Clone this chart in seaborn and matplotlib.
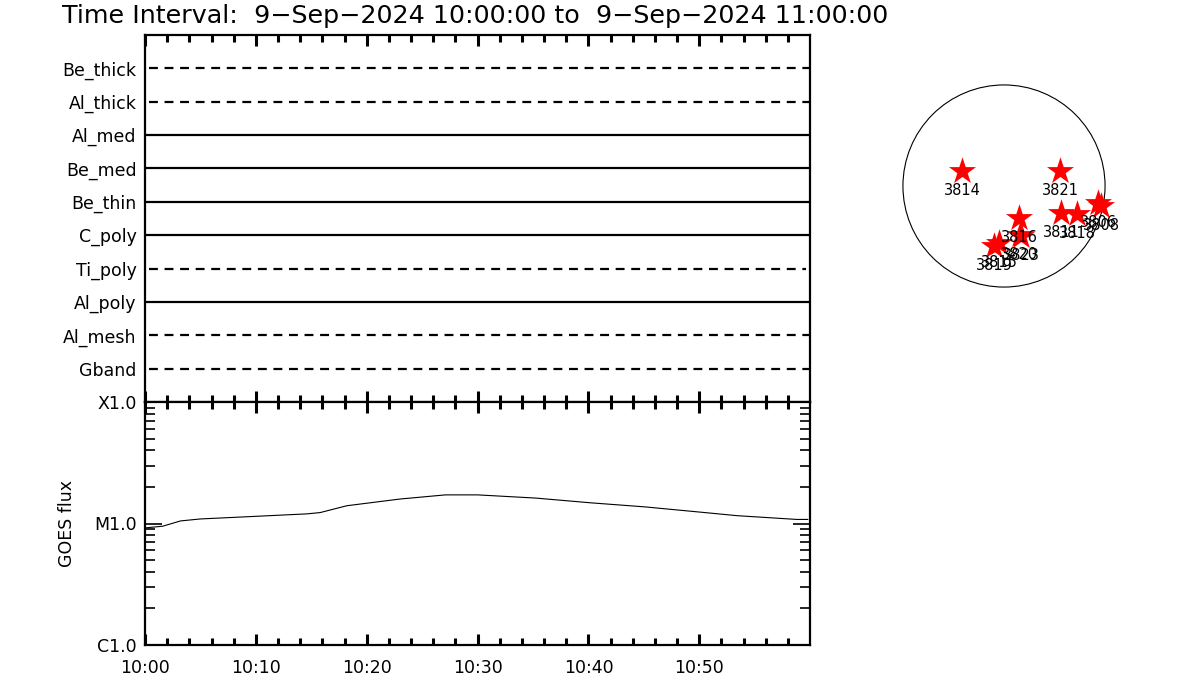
#!/usr/bin/env python3
"""
Filter timeline + GOES flux + solar disk active-region map, 9-Sep-2024 10:00-11:00.
"""

import pandas as pd
import matplotlib
matplotlib.use("Agg")
import matplotlib.pyplot as plt
import matplotlib.dates as mdates
import matplotlib.ticker as mticker
import seaborn as sns

sns.set_style("ticks")
plt.rcParams["font.family"] = ["DejaVu Sans"]
for key in ("text.color", "axes.labelcolor", "xtick.color", "ytick.color"):
    plt.rcParams[key] = "black"

# ------------------------------------------------------------------
# Data
# ------------------------------------------------------------------
T0 = pd.Timestamp("2024-09-09 10:00:00")
T1 = pd.Timestamp("2024-09-09 10:59:59")

filters = ["Be_thick", "Al_thick", "Al_med", "Be_med", "Be_thin",
           "C_poly", "Ti_poly", "Al_poly", "Al_mesh", "Gband"]
filter_dashed = [True, True, False, False, False, False, True, False, True, True]
filter_start_min = [0.4, 0.4, 0, 0, 0, 0, 0.4, 0, 0.4, 0.4]
filter_end_min = [60, 60, 60, 60, 60, 60, 59.6, 60, 60, 60]

goes_min = [0.0, 1.6, 3.2, 5.0, 9.5, 14.6, 15.8, 18.2, 23.0, 27.1, 30.0,
            35.2, 40.2, 45.1, 50.1, 53.4, 58.8, 59.8]
goes_flux = [9.2e-6, 9.5e-6, 1.05e-5, 1.09e-5, 1.14e-5, 1.20e-5, 1.23e-5,
             1.40e-5, 1.59e-5, 1.72e-5, 1.72e-5, 1.62e-5, 1.48e-5, 1.37e-5,
             1.24e-5, 1.16e-5, 1.08e-5, 1.08e-5]

ar_numbers = ["3814", "3821", "3816", "3820", "3823", "3819", "3815",
              "3811", "3818", "3806", "3808"]
ar_x = [-397, 529, 142, 151, 161, -95, -47, 539, 690, 888, 917]
ar_y = [142, 142, -302, -463, -473, -567, -539, -255, -265, -161, -189]
sun_radius = 955

# ------------------------------------------------------------------
# Figure layout
# ------------------------------------------------------------------
fig = plt.figure(figsize=(12, 7), dpi=100)
W, H = 1200, 700


def px_axes(x0, y0, x1, y1):
    return fig.add_axes([x0 / W, 1 - y1 / H, (x1 - x0) / W, (y1 - y0) / H])


ax_top = px_axes(145, 35, 810, 402)
ax_bot = px_axes(145, 402, 810, 645)
ax_sun = px_axes(879, 61, 1129, 311)

for ax in (ax_top, ax_bot):
    for sp in ax.spines.values():
        sp.set_linewidth(1.6)
        sp.set_color("black")
    ax.set_xlim(T0, T1)
    ax.xaxis.set_major_locator(mdates.MinuteLocator(byminute=range(0, 60, 10)))
    ax.xaxis.set_minor_locator(mdates.MinuteLocator(byminute=range(0, 60, 2)))
    ax.xaxis.set_major_formatter(mdates.DateFormatter("%H:%M"))
    ax.tick_params(axis="x", which="major", direction="in", top=True, bottom=True,
                   length=8, width=2.2, labelsize=12.5, pad=10)
    ax.tick_params(axis="x", which="minor", direction="in", top=True, bottom=True,
                   length=5, width=2.2)

# ------------------------------------------------------------------
# Top panel: filter timeline
# ------------------------------------------------------------------
pos = list(range(len(filters), 0, -1))
for name, y, dashed, s, e in zip(filters, pos, filter_dashed,
                                 filter_start_min, filter_end_min):
    seg = pd.DataFrame({"time": [T0 + pd.Timedelta(minutes=s),
                                 T0 + pd.Timedelta(minutes=e)],
                        "y": [y, y]})
    sns.lineplot(data=seg, x="time", y="y", ax=ax_top, color="black",
                 linewidth=1.6, linestyle=(0, (4, 3)) if dashed else "-")
ax_top.set_ylim(0, len(filters) + 1)
ax_top.set_yticks(pos)
ax_top.set_yticklabels(filters)
ax_top.tick_params(axis="y", length=0, labelsize=12.5, pad=6)
ax_top.tick_params(axis="x", labelbottom=False)
ax_top.set_xlabel("")
ax_top.set_ylabel("")

# ------------------------------------------------------------------
# Bottom panel: GOES flux
# ------------------------------------------------------------------
goes = pd.DataFrame({"time": [T0 + pd.Timedelta(minutes=m) for m in goes_min],
                     "flux": goes_flux})
sns.lineplot(data=goes, x="time", y="flux", ax=ax_bot, color="black", linewidth=0.8)
ax_bot.set_yscale("log")
ax_bot.set_ylim(1e-6, 1e-4)
ax_bot.yaxis.set_major_locator(mticker.FixedLocator([1e-6, 1e-5, 1e-4]))
ax_bot.yaxis.set_major_formatter(mticker.FixedFormatter(["C1.0", "M1.0", "X1.0"]))
ax_bot.yaxis.set_minor_locator(mticker.LogLocator(base=10, subs=range(2, 10)))
ax_bot.yaxis.set_minor_formatter(mticker.NullFormatter())
ax_bot.tick_params(axis="y", which="major", direction="in", left=True, right=True,
                   length=12, width=1.2, labelsize=12.5, pad=6)
ax_bot.tick_params(axis="y", which="minor", direction="in", left=True, right=True,
                   length=7, width=1.2)
ax_bot.set_xlabel("")
ax_bot.set_ylabel("GOES flux", fontsize=12.5, labelpad=13)

# ------------------------------------------------------------------
# Solar disk with active regions
# ------------------------------------------------------------------
ax_sun.add_patch(plt.Circle((0, 0), sun_radius, fill=False, color="black", linewidth=0.8))
sns.scatterplot(x=ar_x, y=ar_y, ax=ax_sun, marker="*", s=420, color="red",
                edgecolor="red", linewidth=0, zorder=3)
for num, x, y in zip(ar_numbers, ar_x, ar_y):
    ax_sun.annotate(num, (x, y), xytext=(0, -14), textcoords="offset points",
                    ha="center", va="center", fontsize=10.5, zorder=4)
lim = 125 * 9.45
ax_sun.set_xlim(-lim, lim)
ax_sun.set_ylim(-lim, lim)
ax_sun.set_aspect("equal")
ax_sun.axis("off")

fig.text(62 / W, 1 - 16 / H,
         "Time Interval:  9\u2212Sep\u22122024 10:00:00 to  9\u2212Sep\u22122024 11:00:00",
         ha="left", va="center", fontsize=18.3)

fig.savefig("out.png", dpi=100, facecolor="white")
